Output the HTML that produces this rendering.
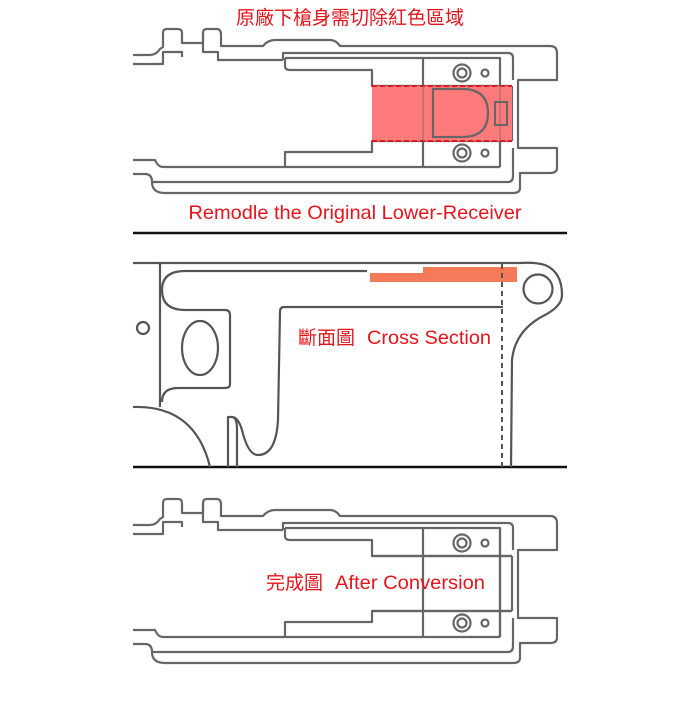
<!DOCTYPE html>
<html><head><meta charset="utf-8"><style>
html,body{margin:0;padding:0;background:#fff;}
body{width:700px;height:700px;overflow:hidden;}
text{font-family:"Liberation Sans","Noto Sans CJK TC",sans-serif;fill:#e8141c;}
</style></head><body>
<svg width="700" height="700" viewBox="0 0 700 700" xmlns="http://www.w3.org/2000/svg">
<defs>
<g id="rcv" fill="none" stroke="#666" stroke-width="2.2" stroke-linejoin="round">
  <path d="M133,55 L150,55 Q156,55 160,49 L163,47 L163,33 Q163,29 167,29 L178,29 Q182,29 182,33 L182,43 L203,43 L203,33 Q203,29 207,29 L217,29 Q221,29 221,35 L221,46 L263,46 Q268,40 275,40 L330,40 Q336,40 340,46 L550,46 Q557,46 557,53 L557,80 L518,80 L518,148 L557,148 L557,168 Q557,173 550,173 L520,173 L520,188 Q520,193 513,193 L165,193 Q152,193 152,182 Q152,174 145,174 L133,174"/>
  <path d="M133,64 L163,64 L163,52 L182,52 L182,57"/>
  <path d="M203,33 L203,52 L218,52 L218,60 L283,60"/>
  <path d="M283,60 L283,53 L508,53 Q513,53 513,58 L513,80"/>
  <path d="M133,160 L155,160 Q158,167 163,167 L500,167"/>
  <path d="M153,182 L508,182 Q513,182 513,176 L513,148"/>
  <path d="M285,58 L500,58 L500,167"/>
  <path d="M285,58 L285,66 Q285,70 290,70 L372,70 L372,86 L512,86"/>
  <path d="M285,167 L285,152 L372,152 L372,141 L512,141"/>
  <path d="M512,86 L512,141"/>
  <path d="M423,58 L423,167"/>
  <circle cx="462" cy="73" r="8.5"/><circle cx="462" cy="73" r="4.5"/>
  <circle cx="485" cy="73" r="3.5"/>
  <circle cx="462" cy="153" r="8.5"/><circle cx="462" cy="153" r="4.5"/>
  <circle cx="485" cy="153" r="3.5"/>
</g>
</defs>

<text x="350" y="24" font-size="19" text-anchor="middle">原廠下槍身需切除紅色區域</text>
<use href="#rcv"/>
<rect x="372" y="86" width="140" height="55" fill="#ff7b7b"/>
<line x1="372" y1="86" x2="512" y2="86" stroke="#e8141c" stroke-width="2" stroke-dasharray="5,3"/>
<line x1="372" y1="141" x2="512" y2="141" stroke="#e8141c" stroke-width="2" stroke-dasharray="5,3"/>
<path d="M433,89 L462,89 Q488,89 488,113 Q488,137 462,137 L433,137 Z" fill="none" stroke="#666" stroke-width="2.2"/>
<rect x="495" y="102" width="12" height="23" fill="none" stroke="#666" stroke-width="2"/>
<path d="M423,86 L423,141 M500,86 L500,141" stroke="#666" stroke-width="1.5" opacity="0.5"/>
<text x="355" y="219" font-size="19.5" text-anchor="middle" textLength="333" lengthAdjust="spacingAndGlyphs">Remodle the Original Lower-Receiver</text>

<line x1="133" y1="233" x2="567" y2="233" stroke="#111" stroke-width="2.5"/>
<line x1="133" y1="467" x2="567" y2="467" stroke="#111" stroke-width="2.5"/>

<g fill="none" stroke="#555" stroke-width="2.2" stroke-linejoin="round">
  <path d="M133,263 L520,263 Q535,262 545,265 Q562,272 562,295 Q562,306 545,315 Q515,330 512,360 L511,467"/>
  <circle cx="538" cy="289" r="14.5"/>
  <path d="M160,263 L160,407"/>
  <path d="M367,271 L185,271 Q162,271 162,290 Q162,310 185,310 L225,310 Q230,310 230,315 L230,384 Q230,388 225,388 L178,388 Q162,388 162,402"/>
  <path d="M503,307 L284,307 Q280,307 280,312 L278,420 Q276,455 258,455 Q248,455 242,430 Q238,417 232,417 L228,417 L228,467"/>
  <path d="M232,417 Q237,417 237,430 L237,467" />
  <ellipse cx="200" cy="348" rx="18" ry="27"/>
  <circle cx="143" cy="328" r="6"/>
  <path d="M133,407 Q195,405 210,467"/>
</g>
<rect x="370" y="273" width="147" height="9" fill="#f47a5a"/>
<rect x="423" y="267" width="94" height="8" fill="#f47a5a"/>
<line x1="502" y1="264" x2="502" y2="467" stroke="#555" stroke-width="2" stroke-dasharray="5,4"/>
<text x="298" y="344" font-size="19">斷面圖</text>
<text x="367" y="344" font-size="19" textLength="124" lengthAdjust="spacingAndGlyphs">Cross Section</text>

<g transform="translate(0,470)">
  <use href="#rcv"/>
  <path d="M372,86 L512,86 M372,141 L512,141 M500,58 L500,167" fill="none" stroke="#666" stroke-width="2.2"/>
</g>
<text x="266" y="589" font-size="19">完成圖</text>
<text x="335" y="589" font-size="19" textLength="150" lengthAdjust="spacingAndGlyphs">After Conversion</text>
</svg>
</body></html>
